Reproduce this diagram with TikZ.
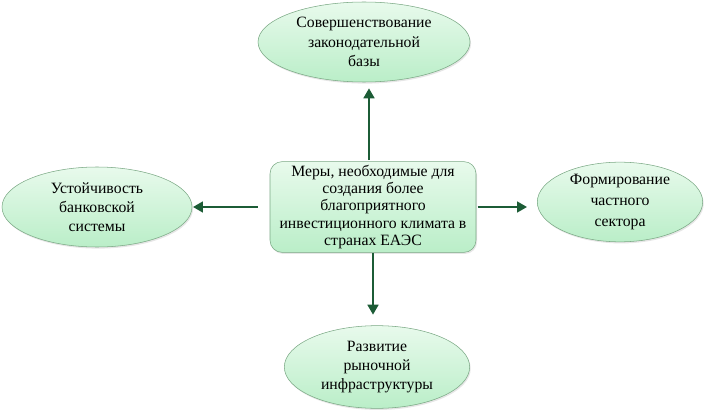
\documentclass[tikz,border=0pt]{standalone}
\usepackage{fontspec}
\setmainfont{Liberation Serif}
\usetikzlibrary{arrows.meta,shapes.geometric,shadows}
\definecolor{leafgreen}{RGB}{186,238,200}
\definecolor{paleleaf}{RGB}{232,250,236}
\definecolor{rimgreen}{RGB}{122,168,132}
\definecolor{arrowgreen}{RGB}{28,92,54}
\tikzset{
  goal/.style={ellipse, draw=rimgreen, thin, top color=paleleaf, bottom color=leafgreen,
               align=center, inner sep=0pt, font=\fontsize{11.8}{14.4}\selectfont,
               drop shadow={opacity=0.2, shadow xshift=0.8pt, shadow yshift=-1.2pt}},
  core/.style={rectangle, rounded corners=9pt, draw=rimgreen, thin, top color=paleleaf,
               bottom color=leafgreen, align=center, inner sep=0pt,
               minimum width=154.5pt, minimum height=68pt, font=\fontsize{11.8}{12.9}\selectfont,
               drop shadow={opacity=0.2, shadow xshift=0.8pt, shadow yshift=-1.2pt}},
  ar/.style={-{Triangle[length=7.5pt, width=8pt]}, line width=2.2pt, draw=arrowgreen},
}

\begin{document}
\begin{tikzpicture}[x=0.75pt, y=-0.75pt]
\useasboundingbox (0,0) rectangle (716,417);

% ============================ centre block ==============================
\node[core] (measures) at (373,207)
  {Меры, необходимые для\\ создания более\\ благоприятного\\ инвестиционного климата в\\ странах ЕАЭС};

% ============================ four directions ===========================
\node[goal, minimum width=159pt, minimum height=60pt] (law) at (364,42)
  {Совершенствование\\ законодательной\\ базы};
\node[goal, minimum width=142.5pt, minimum height=60pt] (bank) at (97,207)
  {Устойчивость\\ банковской\\ системы};
\node[goal, minimum width=124pt, minimum height=57pt, font=\fontsize{11.8}{16}\selectfont] (private) at (620,202)
  {Формирование\\ частного\\ сектора};
\node[goal, minimum width=139pt, minimum height=62pt] (market) at (377,367)
  {Развитие\\ рыночной\\ инфраструктуры};

% ============================ arrows ====================================
\draw[ar, shorten <=1pt, shorten >=4.5pt] ([xshift=-3pt]measures.north) -- ([xshift=-3pt]measures.north |- law.south);
\draw[ar, shorten <=9pt, shorten >=0.5pt] (measures.west) -- (measures.west -| bank.east);
\draw[ar, shorten <=1pt, shorten >=7.5pt] (measures.east) -- (measures.east -| private.west);
\draw[ar, shorten <=0pt, shorten >=8pt] (measures.south) -- (measures.south |- market.north);

\end{tikzpicture}
\end{document}
